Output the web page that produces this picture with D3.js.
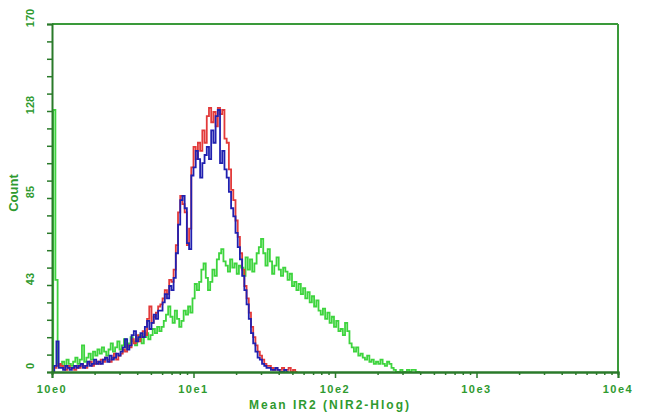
<!DOCTYPE html>
<html>
<head>
<meta charset="utf-8">
<script src="https://cdn.jsdelivr.net/npm/d3@7"></script>
<style>
  html, body { margin: 0; padding: 0; background: #ffffff; }
  svg { display: block; }
</style>
</head>
<body>
<svg id="chart" width="650" height="415"></svg>
<script>
// ---- data (histogram counts per channel, 64 channels per decade, channel 0 at 10e0) ----
const channelsPerDecade = 64;
const blueCounts = [
  0,3,15,2,
  2,1,3,2,1,2,3,
  2,3,4,2,3,5,3,4,6,4,
  5,4,6,7,5,8,6,7,9,8,
  10,12,16,11,13,18,20,15,17,19,
  17,22,25,21,24,28,26,30,
  30,34,38,36,42,40,46,
  58,72,84,86,80,
  63,60,
  96,100,108,104,
  95,102,106,110,
  104,118,112,125,128,
  102,108,99,
  95,88,80,
  76,68,61,55,
  47,40,33,
  26,19,14,10,7,
  6,4,3,2,
  2,1,1,2,1,0,
  0,1,0
];
const redCounts = [
  0,2,3,4,
  3,2,1,3,2,2,1,
  3,2,4,3,2,4,5,3,4,5,
  4,6,5,7,6,5,7,9,6,8,
  9,11,10,13,12,16,14,18,15,17,
  20,18,26,32,24,27,29,32,
  33,36,40,38,45,44,50,
  62,78,86,82,78,
  62,70,
  100,110,104,112,
  108,118,112,125,
  129,122,127,120,129,
  126,128,114,
  112,99,89,
  84,74,66,58,
  50,42,36,
  29,22,17,13,10,
  8,6,4,3,
  3,2,1,2,1,1,
  2,1,1,2,0,1,0
];
const greenCounts = [
  128,45,4,3,
  5,3,6,4,3,5,7,
  4,6,13,5,7,9,6,10,8,11,
  9,12,10,8,11,14,10,12,15,11,
  13,16,12,14,17,15,13,16,18,14,
  17,19,16,18,21,19,22,20,
  22,25,28,32,27,24,30,
  26,22,25,30,28,
  32,29,
  36,43,40,44,
  50,53,46,40,
  44,50,47,55,58,
  60,54,52,
  49,55,51,
  53,48,52,51,
  47,56,50,
  55,49,53,58,61,
  65,58,52,60,
  54,48,52,56,50,47,
  51,49,45,48,42,44,40,
  43,38,41,36,39,34,37,32,35,30,
  28,31,26,29,24,27,22,25,20,21,
  18,24,20,14,12,
  10,12,8,9,7,6,8,5,6,4,
  5,4,6,4,3,5,4,2,1,0,
  0,1,0,0,1,0,1,1,0,0
];
const xTickValues = [1, 10, 100, 1000, 10000];
const xTickLabels = ["10e0", "10e1", "10e2", "10e3", "10e4"];
const yTickValues = [0, 42.5, 85, 127.5, 170];
const yTickLabels = ["0", "43", "85", "128", "170"];
const xTitle = "Mean IR2 (NIR2-Hlog)";
const yTitle = "Count";

// ---- layout ----
const L = 52, R = 618, T = 24, B = 372;
const axisColor = "#2a7a2a";
const frameColor = "#3a9a3a";
const textColor = "#2f9a2f";

const svg = d3.select("#chart");
const x = d3.scaleLog().domain([1, 10000]).range([L, R]);
const y = d3.scaleLinear().domain([0, 170]).range([B, T]);

svg.append("defs").append("clipPath").attr("id", "plotclip")
  .append("rect").attr("x", L).attr("y", T - 1).attr("width", R - L).attr("height", B - T + 1);

// frame (top & right)
svg.append("line").attr("x1", L).attr("x2", R).attr("y1", T).attr("y2", T)
  .attr("stroke", frameColor).attr("stroke-width", 2);
svg.append("line").attr("x1", R).attr("x2", R).attr("y1", T).attr("y2", B)
  .attr("stroke", frameColor).attr("stroke-width", 2);

// histograms
function toPoints(counts) {
  const pts = [{ v: 1, c: 0 }];
  counts.forEach((c, i) => pts.push({ v: Math.pow(10, i / channelsPerDecade), c: c }));
  pts.push({ v: Math.pow(10, counts.length / channelsPerDecade), c: 0 });
  return pts;
}
const line = d3.line().x(d => x(d.v)).y(d => y(d.c)).curve(d3.curveStepAfter);
const g = svg.append("g").attr("clip-path", "url(#plotclip)");
[
  { data: greenCounts, color: "#3ed43e", off: 1.2 },
  { data: redCounts, color: "#e23a3a", off: 0 },
  { data: blueCounts, color: "#2020b0", off: 0 }
].forEach(s => {
  g.append("path").datum(toPoints(s.data))
    .attr("fill", "none").attr("stroke", s.color).attr("stroke-width", 1.8)
    .attr("transform", `translate(${s.off},0)`)
    .attr("d", line);
});

// x axis: minor and major ticks
const minor = [];
for (let d = 0; d < 4; d++) for (let m = 2; m <= 9; m++) minor.push(m * Math.pow(10, d));
const xMinor = svg.append("g").attr("transform", `translate(0,${B})`)
  .call(d3.axisBottom(x).tickValues(minor).tickSize(3).tickFormat(""));
const xMajor = svg.append("g").attr("transform", `translate(0,${B})`)
  .call(d3.axisBottom(x).tickValues(xTickValues).tickSize(6).tickFormat(""));
[xMinor, xMajor].forEach(a => {
  a.select(".domain").attr("stroke", axisColor).attr("stroke-width", 2);
  a.selectAll(".tick line").attr("stroke", axisColor).attr("stroke-width", 1.5);
});
svg.append("g").selectAll("text").data(xTickValues).join("text")
  .attr("x", d => x(d)).attr("y", 393)
  .attr("text-anchor", "middle")
  .attr("font-family", "Liberation Sans, Arial, sans-serif")
  .attr("font-size", 11).attr("font-weight", "bold")
  .attr("letter-spacing", "1.5px")
  .attr("fill", textColor)
  .text((d, i) => xTickLabels[i]);

// y axis
const yAx = svg.append("g").attr("transform", `translate(${L},0)`)
  .call(d3.axisLeft(y).tickValues(d3.range(0, 170.01, 8.5)).tickSize(5).tickFormat(""));
yAx.select(".domain").attr("stroke", axisColor).attr("stroke-width", 2);
yAx.selectAll(".tick line").attr("stroke", axisColor).attr("stroke-width", 1.5);
svg.append("g").selectAll("text").data(yTickValues).join("text")
  .attr("transform", d => `translate(34,${y(d) - 6}) rotate(-90)`)
  .attr("text-anchor", "middle")
  .attr("font-family", "Liberation Sans, Arial, sans-serif")
  .attr("font-size", 11).attr("font-weight", "bold")
  .attr("fill", textColor)
  .text((d, i) => yTickLabels[i]);

// titles
svg.append("text")
  .attr("x", 330).attr("y", 409)
  .attr("text-anchor", "middle")
  .attr("font-family", "Liberation Sans, Arial, sans-serif")
  .attr("font-size", 12).attr("font-weight", "bold")
  .attr("letter-spacing", "2px")
  .attr("fill", textColor)
  .text(xTitle);
svg.append("text")
  .attr("transform", "translate(18,193) rotate(-90)")
  .attr("text-anchor", "middle")
  .attr("font-family", "Liberation Sans, Arial, sans-serif")
  .attr("font-size", 13).attr("font-weight", "bold")
  .attr("fill", textColor)
  .text(yTitle);
</script>
</body>
</html>
